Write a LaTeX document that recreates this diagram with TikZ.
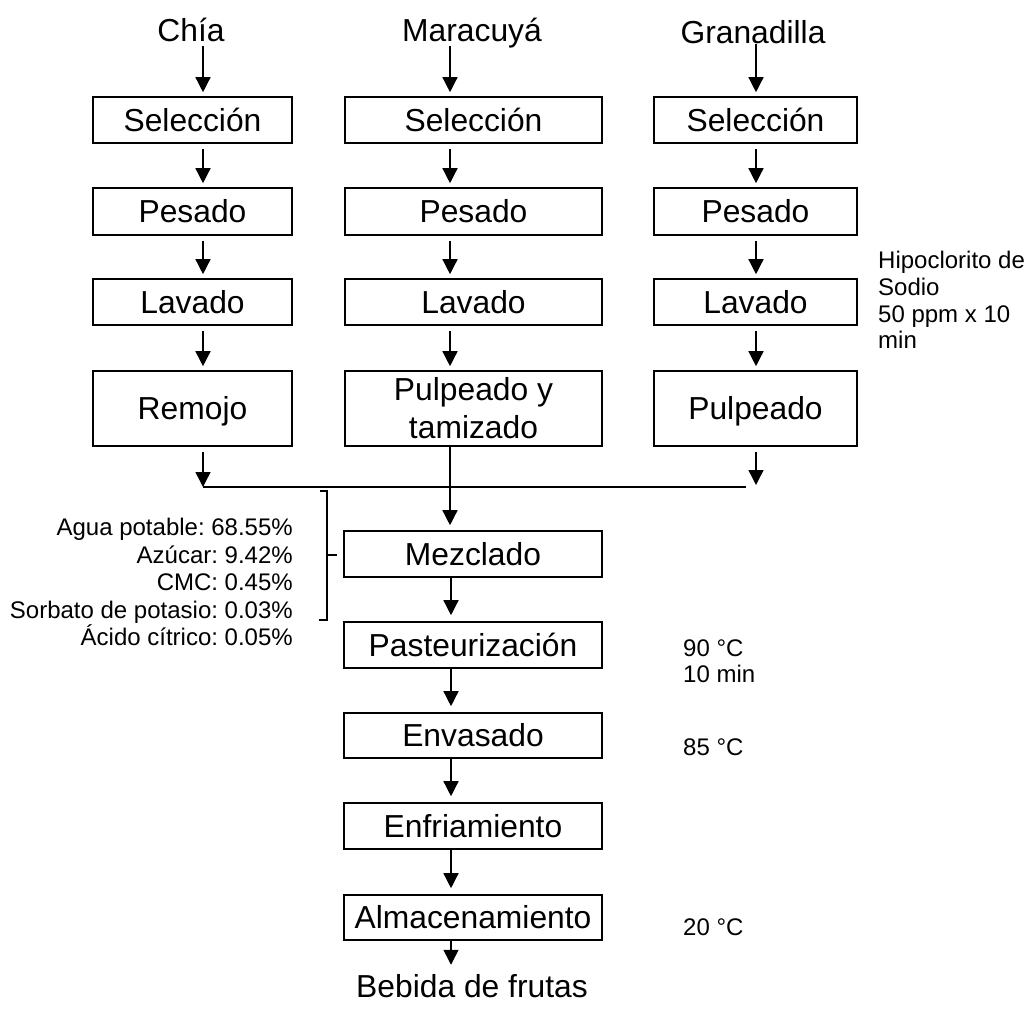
\documentclass[tikz,border=0pt]{standalone}
\usepackage{fontspec}
\setmainfont{Liberation Sans}
\usetikzlibrary{arrows.meta,calc}
\begin{document}
\frenchspacing
\begin{tikzpicture}[x=1pt,y=-1pt,
  box/.style={draw, line width=1.6pt, inner sep=0pt, font=\fontsize{31.8}{38}\selectfont, text height=24.5pt, text depth=2pt},
  arr/.style={line width=1.4pt, -{Triangle[width=15pt,length=15pt]}, shorten <=5pt, shorten >=4pt},
  ln/.style={line width=1.4pt},
  brk/.style={line width=1.2pt},
  side/.style={font=\fontsize{24}{27.5}\selectfont, inner sep=0pt},
  ttl/.style={font=\fontsize{31.8}{36}\selectfont, inner sep=0pt, text depth=0pt, anchor=base}]
\useasboundingbox (0,0) rectangle (1027,1021);

% arrow columns
\coordinate (a1) at (203,0);
\coordinate (a2) at (450,0);
\coordinate (a3) at (756,0);
\coordinate (a4) at (451,0);

% titles
\node[ttl] (chia) at (191,41) {Chía};
\node[ttl] (mara) at (472,41) {Maracuyá};
\node[ttl] (gran) at (753,43) {Granadilla};

% column 1
\node[box, minimum width=199, minimum height=46] (sel1) at (192.5,120) {Selección};
\node[box, minimum width=199, minimum height=47] (pes1) at (192.5,211.5) {Pesado};
\node[box, minimum width=199, minimum height=46] (lav1) at (192.5,302) {Lavado};
\node[box, minimum width=199, minimum height=75] (rem1) at (192.5,408.5) {Remojo};

% column 2
\node[box, minimum width=257, minimum height=46] (sel2) at (473.5,120) {Selección};
\node[box, minimum width=257, minimum height=47] (pes2) at (473.5,211.5) {Pesado};
\node[box, minimum width=257, minimum height=46] (lav2) at (473.5,302) {Lavado};
\node[box, minimum width=257, minimum height=75, align=center, text height={}, text depth={}] (pt2) at (473.5,408.5) {Pulpeado y\\tamizado};

% column 3
\node[box, minimum width=203, minimum height=46] (sel3) at (755.5,120) {Selección};
\node[box, minimum width=203, minimum height=47] (pes3) at (755.5,211.5) {Pesado};
\node[box, minimum width=203, minimum height=46] (lav3) at (755.5,302) {Lavado};
\node[box, minimum width=203, minimum height=75] (pul3) at (755.5,408.5) {Pulpeado};

% lower chain
\node[box, minimum width=258, minimum height=46] (mez) at (473,554) {Mezclado};
\node[box, minimum width=258, minimum height=46] (pas) at (473,645) {Pasteurización};
\node[box, minimum width=258, minimum height=45] (env) at (473,735.5) {Envasado};
\node[box, minimum width=258, minimum height=46] (enf) at (473,826) {Enfriamiento};
\node[box, minimum width=258, minimum height=45] (alm) at (473,917.5) {Almacenamiento};
\node[ttl] (beb) at (472,997) {Bebida de frutas};

% arrows column 1
\draw[arr] (chia.south -| a1) -- (sel1.north -| a1);
\draw[arr] (sel1.south -| a1) -- (pes1.north -| a1);
\draw[arr] (pes1.south -| a1) -- (lav1.north -| a1);
\draw[arr] (lav1.south -| a1) -- (rem1.north -| a1);
% arrows column 2
\draw[arr] (mara.south -| a2) -- (sel2.north -| a2);
\draw[arr] (sel2.south -| a2) -- (pes2.north -| a2);
\draw[arr] (pes2.south -| a2) -- (lav2.north -| a2);
\draw[arr] (lav2.south -| a2) -- (pt2.north -| a2);
% arrows column 3
\draw[arr, shorten <=1pt] (gran.south -| a3) -- (sel3.north -| a3);
\draw[arr] (sel3.south -| a3) -- (pes3.north -| a3);
\draw[arr] (pes3.south -| a3) -- (lav3.north -| a3);
\draw[arr] (lav3.south -| a3) -- (pul3.north -| a3);

% join
\coordinate (j1) at (203,487);
\coordinate (j3) at (746,487);
\draw[arr, shorten >=0pt] (rem1.south -| a1) -- (j1);
\draw[arr, shorten >=2pt] (pul3.south -| a3) -- (j3 -| a3);
\draw[ln] (j1) -- (j3);
\draw[arr, shorten <=0pt, shorten >=5pt] (pt2.south -| a2) -- (mez.north -| a2);

% lower arrows
\draw[arr, shorten <=0pt, shorten >=6pt] (mez.south -| a4) -- (pas.north -| a4);
\draw[arr, shorten <=0pt, shorten >=6pt] (pas.south -| a4) -- (env.north -| a4);
\draw[arr, shorten <=0pt, shorten >=6pt] (env.south -| a4) -- (enf.north -| a4);
\draw[arr, shorten <=0pt, shorten >=6pt] (enf.south -| a4) -- (alm.north -| a4);
\draw[arr, shorten <=0pt, shorten >=9pt] (alm.south -| a4) -- (beb.north -| a4);

% bracket
\draw[brk] (320,491) -- (327,491) -- (327,620) -- (319,620);
\draw[brk] (327,555) -- (337,555);

% ingredients
\node[side, anchor=base east] (ing1) at (293,535) {Agua potable: 68.55\%};
\node[side, anchor=base east] (ing2) at (293,563) {Azúcar: 9.42\%};
\node[side, anchor=base east] (ing3) at (293,590) {CMC: 0.45\%};
\node[side, anchor=base east] (ing4) at (293,618) {Sorbato de potasio: 0.03\%};
\node[side, anchor=base east] (ing5) at (293,645) {Ácido cítrico: 0.05\%};

% side notes
\node[side, anchor=base west] (h1) at (878,268) {Hipoclorito de};
\node[side, anchor=base west] (h2) at (878,295) {Sodio};
\node[side, anchor=base west] (h3) at (878,322) {50 ppm x 10};
\node[side, anchor=base west] (h4) at (878,348) {min};
\node[side, anchor=base west] (p1) at (683,656) {90 °C};
\node[side, anchor=base west] (p2) at (683,682) {10 min};
\node[side, anchor=base west] (e1) at (683,755) {85 °C};
\node[side, anchor=base west] (s1) at (683,935) {20 °C};
\end{tikzpicture}
\end{document}
